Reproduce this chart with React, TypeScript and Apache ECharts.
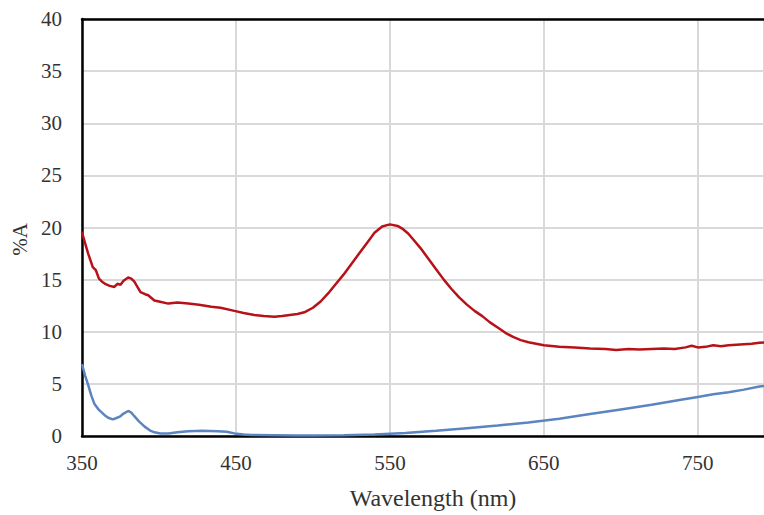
import React, { useEffect, useRef } from "react";
import * as echarts from "echarts";

const redNm = [350, 351, 354, 357, 359, 361, 363, 365, 368, 371, 373, 375, 377, 380, 382, 384, 386, 388, 391, 393, 397, 400, 406, 412, 419, 426, 434, 440, 449, 455, 462, 468, 475, 480, 485, 490, 495, 500, 505, 510, 515, 520, 525, 530, 535, 540, 545, 550, 555, 558, 562, 566, 570, 575, 580, 585, 590, 595, 600, 605, 610, 615, 620, 625, 630, 635, 640, 645, 650, 660, 670, 680, 690, 697, 705, 712, 720, 728, 735, 742, 746, 750, 755, 760, 765, 770, 775, 780, 785, 790, 795, 800];
const redVal = [19.6, 19.0, 17.5, 16.2, 15.9, 15.1, 14.8, 14.6, 14.4, 14.3, 14.6, 14.5, 14.9, 15.2, 15.1, 14.8, 14.3, 13.8, 13.6, 13.5, 13.0, 12.9, 12.7, 12.8, 12.7, 12.6, 12.4, 12.3, 12.0, 11.8, 11.6, 11.5, 11.45, 11.5, 11.6, 11.7, 11.9, 12.3, 12.9, 13.7, 14.6, 15.5, 16.5, 17.5, 18.5, 19.5, 20.1, 20.3, 20.15, 19.9, 19.4, 18.7, 18.0, 17.0, 16.0, 15.0, 14.1, 13.3, 12.6, 12.0, 11.5, 10.9, 10.4, 9.9, 9.5, 9.2, 9.0, 8.85, 8.7, 8.55, 8.5, 8.4, 8.35, 8.25, 8.35, 8.3, 8.35, 8.4, 8.35, 8.5, 8.65, 8.5, 8.55, 8.7, 8.6, 8.7, 8.75, 8.8, 8.85, 8.95, 9.0, 9.05];

const blueNm = [350, 352, 354, 356, 358, 361, 364.7, 367, 370, 372, 374.5, 377, 380, 382, 384, 387, 390.7, 394, 397, 401, 406, 412, 419, 428, 438, 444, 449, 455, 460, 475, 490, 500, 520, 540, 560, 580, 600, 620, 640, 660, 680, 700, 720, 740, 750, 760, 770, 780, 790, 800];
const blueVal = [6.9, 5.8, 4.9, 3.9, 3.1, 2.5, 2.0, 1.75, 1.6, 1.7, 1.85, 2.15, 2.4, 2.25, 1.9, 1.4, 0.9, 0.55, 0.35, 0.25, 0.25, 0.35, 0.45, 0.5, 0.45, 0.4, 0.25, 0.15, 0.1, 0.08, 0.05, 0.05, 0.08, 0.15, 0.28, 0.5, 0.75, 1.0, 1.3, 1.65, 2.1, 2.55, 3.0, 3.5, 3.75, 4.0, 4.2, 4.45, 4.75, 4.9];

const xTitle = "Wavelength (nm)";
const yTitle = "%A";

const FONT = "Liberation Serif";

export default function App() {
  const ref = useRef<HTMLDivElement>(null);
  useEffect(() => {
    if (!ref.current) return;
    const chart = echarts.init(ref.current, null, { renderer: "svg" });
    const pairs = (xs: number[], ys: number[]) => xs.map((x, i) => [x, ys[i]]);
    chart.setOption({
      animation: false,
      backgroundColor: "#fff",
      grid: { left: 82, top: 19, bottom: 79, right: 0 },
      xAxis: [
        {
          type: "value",
          min: 350,
          max: 793,
          interval: 100,
          name: xTitle,
          nameLocation: "middle",
          nameGap: 50,
          nameTextStyle: { fontFamily: FONT, fontSize: 24, color: "#333", padding: [0, 0, 0, 20] },
          axisLine: { show: true, onZero: false, lineStyle: { color: "#000", width: 2.5 } },
          axisTick: { show: false },
          axisLabel: { fontFamily: FONT, fontSize: 21, color: "#333", margin: 16, showMaxLabel: false },
          splitLine: { show: true, lineStyle: { color: "#d9d9d9", width: 2 } },
        },
        {
          type: "value",
          position: "top",
          min: 350,
          max: 793,
          axisLine: { show: true, onZero: false, lineStyle: { color: "#000", width: 2.5 } },
          axisTick: { show: false },
          axisLabel: { show: false },
          splitLine: { show: false },
        },
      ],
      yAxis: {
        type: "value",
        min: 0,
        max: 40,
        interval: 5,
        name: yTitle,
        nameLocation: "middle",
        nameGap: 45,
        nameTextStyle: { fontFamily: FONT, fontSize: 21, color: "#333", padding: [0, 24, 0, 0] },
        axisLine: { show: true, onZero: false, lineStyle: { color: "#000", width: 2.5 } },
        axisTick: { show: false },
        axisLabel: { fontFamily: FONT, fontSize: 21, color: "#333", margin: 20 },
        splitLine: { show: true, lineStyle: { color: "#d9d9d9", width: 2 } },
      },
      series: [
        {
          type: "line",
          data: pairs(blueNm, blueVal),
          showSymbol: false,
          lineStyle: { color: "#5b84c0", width: 2.5 },
          itemStyle: { color: "#5b84c0" },
        },
        {
          type: "line",
          data: pairs(redNm, redVal),
          showSymbol: false,
          lineStyle: { color: "#b81219", width: 2.5 },
          itemStyle: { color: "#b81219" },
        },
      ],
    });
    return () => chart.dispose();
  }, []);
  return (
    <div
      ref={ref}
      style={{ position: "fixed", left: 0, top: 0, width: 764, height: 515, background: "#fff" }}
    />
  );
}
